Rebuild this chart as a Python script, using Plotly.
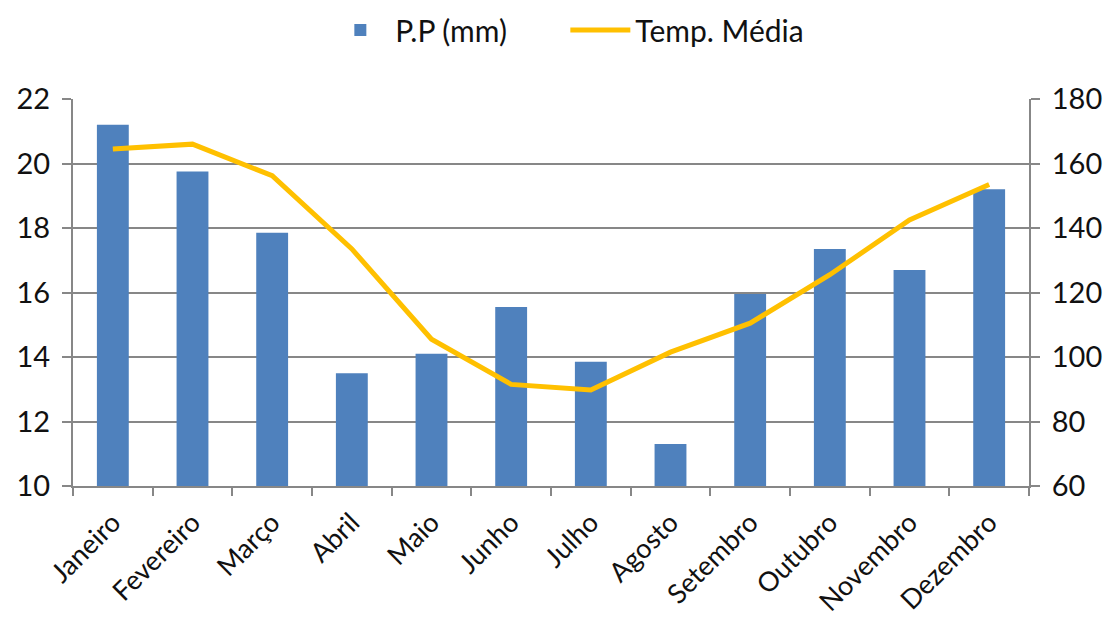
import plotly.graph_objects as go

meses = ["Janeiro", "Fevereiro", "Março", "Abril", "Maio", "Junho",
         "Julho", "Agosto", "Setembro", "Outubro", "Novembro", "Dezembro"]
pp_mm = [21.2, 19.75, 17.85, 13.5, 14.1, 15.55, 13.85, 11.3, 15.95, 17.35, 16.7, 19.2]
temp_media = [164.5, 166.0, 156.2, 133.5, 105.5, 91.5, 89.8, 101.5, 110.5, 125.5, 142.5, 153.5]

FONT = "Lato"
GRID = "#878787"

fig = go.Figure()
fig.add_trace(go.Bar(x=meses, y=pp_mm, name="P.P (mm)", marker=dict(color="#4F81BD", line=dict(width=0)),
                     yaxis="y"))
fig.add_trace(go.Scatter(x=meses, y=temp_media, name="Temp. Média", mode="lines",
                         line=dict(color="#FFC000", width=5), yaxis="y2"))

fig.update_layout(
    width=1110, height=620,
    margin=dict(l=73, r=81, t=99, b=134, autoexpand=False),
    plot_bgcolor="white", paper_bgcolor="white",
    font=dict(family=FONT, size=29, color="#111111"),
    bargap=0.6,
    showlegend=True,
    legend=dict(orientation="h", x=0.515, xanchor="center", y=1.178, yanchor="middle",
                font=dict(size=30), itemwidth=60, entrywidth=165, traceorder="normal"),
    xaxis=dict(showline=True, linecolor=GRID, linewidth=2, ticks="outside", tickson="boundaries",
               tickcolor=GRID, ticklen=8, tickwidth=2, tickangle=-45, tickfont=dict(size=27),
               ticklabelstandoff=8, showgrid=False, automargin=False),
    yaxis=dict(range=[10, 22], dtick=2, showline=True, linecolor=GRID, linewidth=2,
               ticks="outside", tickcolor=GRID, ticklen=9, tickwidth=2, ticklabelstandoff=6,
               showgrid=True, gridcolor=GRID, gridwidth=2, zeroline=False, automargin=False),
    yaxis2=dict(range=[60, 180], dtick=20, overlaying="y", side="right", showline=True,
                linecolor=GRID, linewidth=2, ticks="outside", tickcolor=GRID, ticklen=9,
                tickwidth=2, ticklabelstandoff=6, showgrid=False, zeroline=False, automargin=False),
)

fig.write_html("out.html", config={"displayModeBar": False},
               post_script="document.body.style.margin='0';document.body.style.padding='0';")
